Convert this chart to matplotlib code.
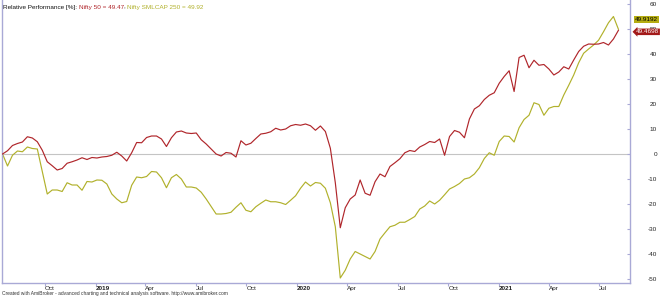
import matplotlib
matplotlib.use('Agg')
import matplotlib.pyplot as plt
import pandas as pd
from matplotlib.transforms import blended_transform_factory, offset_copy

plt.rcParams['font.family'] = ['Liberation Sans', 'DejaVu Sans']

# ---------------- data ----------------
start_date = '2018-07-16'
sample_step = '9D'

nifty50 = [
    0.0, 1.3, 3.4, 4.2, 4.8, 6.9, 6.4, 4.9, 1.5, -3.1,
    -4.7, -6.4, -5.8, -3.7, -3.1, -2.4, -1.5, -2.2, -1.4, -1.6,
    -1.2, -1.0, -0.5, 0.7, -0.8, -2.8, 0.5, 4.6, 4.5, 6.6,
    7.2, 7.2, 6.0, 3.0, 6.5, 8.8, 9.2, 8.4, 8.2, 8.4,
    5.7, 4.0, 2.0, 0.0, -0.8, 0.6, 0.3, -1.2, 5.3, 3.6,
    4.3, 6.2, 8.0, 8.3, 8.9, 10.3, 9.6, 10.0, 11.3, 11.8,
    11.5, 12.0, 11.3, 9.5, 11.2, 9.0, 2.3, -11.5, -29.5, -21.5,
    -18.0, -16.4, -10.4, -15.7, -16.5, -11.1, -8.0, -9.1, -5.0, -3.5,
    -1.9, 0.5, 1.4, 1.0, 2.8, 3.8, 5.0, 4.6, 6.0, -0.5,
    7.0, 9.4, 8.7, 6.5, 14.0, 18.0, 19.3, 21.8, 23.5, 24.5,
    28.3, 31.0, 33.3, 25.0, 38.6, 39.5, 34.5, 37.5, 35.5, 35.8,
    34.0, 31.6, 32.8, 34.9, 34.0, 37.6, 41.0, 43.1, 44.0, 43.9,
    44.0, 44.6, 43.6, 46.0, 49.4698,
]

smlcap250 = [
    0.0, -4.8, -0.5, 1.2, 0.9, 2.8, 2.2, 2.0, -7.0, -16.0,
    -14.4, -14.4, -15.0, -11.5, -12.4, -12.4, -14.5, -11.0, -11.2, -10.4,
    -10.5, -12.0, -16.0, -18.0, -19.5, -19.0, -12.5, -9.2, -9.5, -9.0,
    -7.0, -7.2, -9.5, -13.5, -9.5, -8.2, -10.0, -13.2, -13.2, -13.6,
    -15.3, -18.0, -21.0, -24.0, -24.0, -23.8, -23.3, -21.3, -19.5, -22.5,
    -23.1, -21.1, -19.7, -18.4, -19.1, -19.1, -19.5, -20.2, -18.5, -16.7,
    -13.7, -11.2, -12.8, -11.4, -11.7, -13.7, -19.5, -29.1, -49.6, -46.5,
    -42.0, -39.0, -40.0, -41.0, -42.0, -39.0, -34.0, -31.5, -29.1, -28.5,
    -27.3, -27.3, -26.2, -25.0, -22.0, -20.8, -18.8, -20.0, -18.5, -16.3,
    -14.0, -13.0, -11.8, -10.0, -9.5, -8.0, -5.5, -1.8, 0.5, -0.5,
    5.0, 7.2, 7.0, 4.8, 10.5, 13.8, 15.5, 20.5, 19.8, 15.5,
    18.3, 19.0, 19.0, 23.6, 27.5, 31.6, 36.5, 40.3, 42.0, 43.6,
    45.5, 48.9, 52.5, 55.0, 49.9192,
]

dates = pd.date_range(start_date, periods=len(nifty50), freq=sample_step)

tick_dates = ['2018-10-01', '2019-01-01', '2019-04-01', '2019-07-01',
              '2019-10-01', '2020-01-01', '2020-04-01', '2020-07-01',
              '2020-10-01', '2021-01-01', '2021-04-01', '2021-07-01']
tick_labels = ['Oct', '2019', 'Apr', 'Jul', 'Oct', '2020', 'Apr', 'Jul',
               'Oct', '2021', 'Apr', 'Jul']
y_ticks = list(range(-50, 61, 10))

series_names = ['Nifty 50', 'Nifty SMLCAP 250']
red = '#b0262b'
olive = '#b1b12c'
axis_col = '#a9a9d6'

# ---------------- figure ----------------
W, H = 660, 296
fig = plt.figure(figsize=(W / 100, H / 100), dpi=100)
ax = fig.add_axes([2 / W, 13 / H, 628 / W, 283 / H])

ax.axhline(0, color='#c4c4c4', lw=0.8, zorder=1)
ax.plot(dates, smlcap250, color=olive, lw=0.85, zorder=2)
ax.plot(dates, nifty50, color=red, lw=0.85, zorder=3)

ax.set_xlim(pd.Timestamp('2018-07-15'), pd.Timestamp('2021-08-26'))
ax.set_ylim(-51.6, 61.6)

for s in ['left', 'right', 'bottom']:
    ax.spines[s].set_color(axis_col)
    ax.spines[s].set_linewidth(1.0)
ax.spines['top'].set_visible(False)

# x axis
ax.set_xticks(pd.to_datetime(tick_dates))
ax.set_xticklabels(tick_labels)
ax.tick_params(axis='x', direction='out', length=2.5, width=0.8,
               color=axis_col, labelsize=4.6, labelcolor='#222222', pad=-0.5)
for lab in ax.get_xticklabels():
    lab.set_ha('left')
    if lab.get_text().isdigit():
        lab.set_fontweight('bold')

# y axis on right
ax.yaxis.tick_right()
ax.set_yticks(y_ticks)
ax.set_yticklabels([str(v) for v in y_ticks])
ax.tick_params(axis='y', direction='in', length=2.5, width=0.8,
               color=axis_col, labelsize=4.6, labelcolor='#222222', pad=19.4)
for lab in ax.get_yticklabels():
    lab.set_ha('right')

# value labels at right edge
bt = blended_transform_factory(ax.transAxes, ax.transData)
ax.text(1.0, nifty50[-1], f'{nifty50[-1]:.4f}',
        transform=offset_copy(bt, fig=fig, x=6, y=-1.5, units='dots'),
        ha='left', va='center', fontsize=4.6, color='white', clip_on=False,
        bbox=dict(boxstyle='larrow,pad=0.12', fc='#a31a1a', ec='none'))
ax.text(1.0, smlcap250[-1], f'{smlcap250[-1]:.4f}',
        transform=offset_copy(bt, fig=fig, x=5, y=9.5, units='dots'),
        ha='left', va='center', fontsize=4.6, color='black', clip_on=False,
        bbox=dict(boxstyle='square,pad=0.12', fc='#b5ad12', ec='none'))

# title built from coloured pieces
pieces = [('Relative Performance [%]: ', '#111111'),
          (f'{series_names[0]} = {nifty50[-1]:.2f}', red),
          (', ', '#111111'),
          (f'{series_names[1]} = {smlcap250[-1]:.2f}', olive)]
fig.canvas.draw()
renderer = fig.canvas.get_renderer()
x = 3
for txt, col in pieces:
    t = fig.text(x / W, 1 - 7 / H, txt, color=col, fontsize=4.6,
                 ha='left', va='center')
    bb = t.get_window_extent(renderer=renderer)
    x += bb.width

fig.text(2 / W, 1 - 293.5 / H,
         'Created with AmiBroker - advanced charting and technical analysis software. http://www.amibroker.com',
         fontsize=3.5, color='#333333', ha='left', va='center')

fig.savefig('out.png', dpi=100)
